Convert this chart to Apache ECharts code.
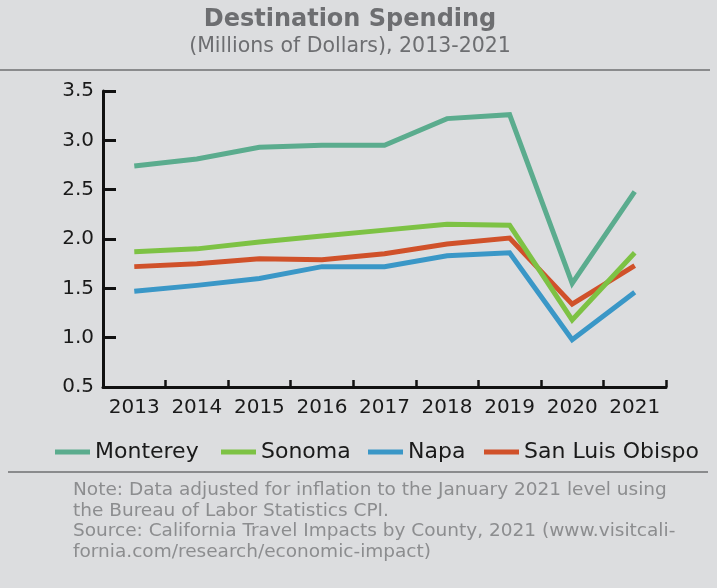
<!DOCTYPE html>
<html>
<head>
<meta charset="utf-8">
<script src="https://cdn.jsdelivr.net/npm/echarts@6/dist/echarts.min.js"></script>
<style>
html,body{margin:0;padding:0;background:#dcdddf;}
#chart{width:717px;height:588px;}
</style>
</head>
<body>
<div id="chart"></div>
<script>
const titleText = 'Destination Spending';
const subtitleText = '(Millions of Dollars), 2013-2021';
const categories = ['2013','2014','2015','2016','2017','2018','2019','2020','2021'];
const seriesNames = ['Monterey','Sonoma','Napa','San Luis Obispo'];
const monterey = [2.74, 2.81, 2.93, 2.95, 2.95, 3.22, 3.26, 1.55, 2.48];
const sonoma = [1.87, 1.90, 1.97, 2.03, 2.09, 2.15, 2.14, 1.18, 1.86];
const napa = [1.47, 1.53, 1.60, 1.72, 1.72, 1.83, 1.86, 0.98, 1.46];
const sanLuisObispo = [1.72, 1.75, 1.80, 1.79, 1.85, 1.95, 2.01, 1.34, 1.73];
const yMin = 0.5, yMax = 3.5, yStep = 0.5;
const noteLines = [
  'Note: Data adjusted for inflation to the January 2021 level using',
  'the Bureau of Labor Statistics CPI.',
  'Source: California Travel Impacts by County, 2021 (www.visitcali-',
  'fornia.com/research/economic-impact)'
];

const colors = ['#5bac8e', '#7dc244', '#3a97c7', '#d0512a'];
const FONT = 'DejaVu Sans';
const seriesData = [monterey, sonoma, napa, sanLuisObispo];
const legendLefts = [55, 221, 368, 484];

const chart = echarts.init(document.getElementById('chart'), null, {renderer: 'canvas'});

const graphics = [
  {type:'text', style:{x:350, y:20, text:titleText, textAlign:'center', textVerticalAlign:'middle',
    font:'bold 24px "' + FONT + '"', fill:'#6d6e71'}},
  {type:'text', style:{x:350, y:47, text:subtitleText, textAlign:'center', textVerticalAlign:'middle',
    font:'20.5px "' + FONT + '"', fill:'#6d6e71'}},
  {type:'line', shape:{x1:0, y1:70, x2:710, y2:70}, style:{stroke:'#8a8b8d', lineWidth:2}},
  {type:'line', shape:{x1:8, y1:472, x2:708, y2:472}, style:{stroke:'#8a8b8d', lineWidth:2}}
];
noteLines.forEach((t, i) => {
  graphics.push({type:'text', style:{x:73, y:490 + i * 20.7, text:t, textAlign:'left', textVerticalAlign:'middle',
    font:'18.5px "' + FONT + '"', fill:'#8c8d8f'}});
});

chart.setOption({
  backgroundColor: '#dcdddf',
  animation: false,
  color: colors,
  graphic: graphics,
  legend: seriesNames.map((n, i) => ({
    left: legendLefts[i], top: 441, padding: 0,
    itemWidth: 35, itemHeight: 5,
    icon: 'rect',
    data: [n],
    textStyle: {fontFamily: FONT, fontSize: 22, color: '#1a1a1a'}
  })),
  grid: {left: 103, right: 51, top: 91, bottom: 201, containLabel: false},
  xAxis: {
    type: 'category',
    data: categories,
    boundaryGap: true,
    axisLine: {lineStyle: {color: '#111', width: 3}},
    axisTick: {show: true, inside: true, length: 7, interval: 0, lineStyle: {color: '#111', width: 2.5}},
    axisLabel: {fontFamily: FONT, fontSize: 20, color: '#1a1a1a', margin: 11, interval: 0, hideOverlap: false},
    splitLine: {show: false}
  },
  yAxis: {
    type: 'value',
    min: yMin, max: yMax, interval: yStep,
    axisLine: {show: true, lineStyle: {color: '#111', width: 3}},
    axisTick: {show: true, inside: true, length: 13, lineStyle: {color: '#111', width: 3}},
    axisLabel: {fontFamily: FONT, fontSize: 20, color: '#1a1a1a', margin: 9,
      formatter: v => v.toFixed(1)},
    splitLine: {show: false}
  },
  series: seriesNames.map((n, i) => ({
    name: n,
    type: 'line',
    data: seriesData[i],
    symbol: 'none',
    lineStyle: {width: 5, cap: 'butt', join: 'miter'},
    z: 10 - i
  }))
});
</script>
</body>
</html>
